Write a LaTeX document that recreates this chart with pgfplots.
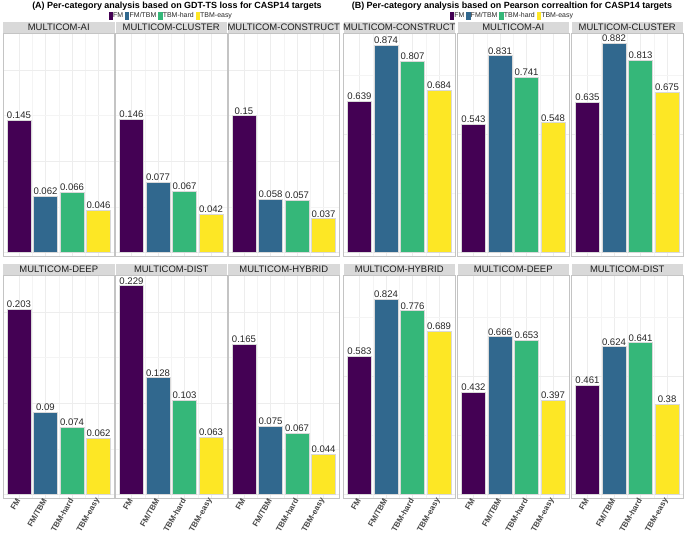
\documentclass[border=0pt]{standalone}
\usepackage{pgfplots}
\pgfplotsset{compat=1.18}
\usepackage{fontspec}
\setmainfont{Liberation Sans}
\definecolor{cFM}{HTML}{440154}
\definecolor{cFT}{HTML}{31688E}
\definecolor{cTH}{HTML}{35B779}
\definecolor{cTE}{HTML}{FDE725}
\definecolor{stripfill}{HTML}{D9D9D9}
\definecolor{panelborder}{HTML}{C4C4C4}
\definecolor{gridmaj}{HTML}{EDEDED}
\definecolor{gridmin}{HTML}{F4F4F4}
\pgfplotsset{
  facet/.style={
    scale only axis, width=111.5bp, height=223bp,
    xmin=0.4, xmax=4.6,
    ybar, bar width=0.9, bar shift=0pt,
    axis line style={panelborder, line width=0.5bp},
    xtick={1,2,3,4}, minor xtick={1.5,2.5,3.5},
    xticklabels={FM,FM/TBM,TBM-hard,TBM-easy},
    major tick length=0pt, minor tick length=0pt,
    yticklabels={},
    grid=both,
    major grid style={gridmaj, line width=0.5bp},
    minor grid style={gridmin, line width=0.3bp},
    x tick label style={rotate=60, anchor=east, font=\bfseries\fontsize{8}{9}\selectfont, text=black!72, inner sep=1bp},
    nodes near coords, point meta=explicit symbolic,
    every node near coord/.append style={font=\fontsize{9.6}{10}\selectfont, text=black!85, inner sep=1.2bp},
    clip=false,
  },
  toprow/.style={xticklabels={}},
  panelA/.style={ymin=-0.004, ymax=0.2405, ytick={0,0.1,0.2}, minor ytick={0.05,0.15}},
  panelB/.style={ymin=-0.015, ymax=0.926, ytick={0,0.5}, minor ytick={0.25,0.75}},
  barstyle/.style={draw=white!85!black, line width=0.4bp, bar shift=0pt},
  mylegend/.style={
    legend entries={FM,FM/TBM,TBM-hard,TBM-easy},
    legend columns=4,
    legend style={at={(axis description cs:#1,1.076)}, anchor=center, draw=none, fill=none,
      font=\fontsize{7}{8}\selectfont, inner sep=0pt,
      nodes={inner sep=0.8bp, text=black!85},
      /tikz/every even column/.append style={column sep=1.2bp}},
  },
}
\newcommand{\legimgs}{%
  \addlegendimage{legend image code/.code={\fill[cFM] (0bp,-3.3bp) rectangle (3.2bp,3.7bp);}}
  \addlegendimage{legend image code/.code={\fill[cFT] (0bp,-3.3bp) rectangle (3.2bp,3.7bp);}}
  \addlegendimage{legend image code/.code={\fill[cTH] (0bp,-3.3bp) rectangle (3.2bp,3.7bp);}}
  \addlegendimage{legend image code/.code={\fill[cTE] (0bp,-3.3bp) rectangle (3.2bp,3.7bp);}}
}
% #1 x, #2 strip top y, #3 panel style, #4 name, #5-#8 values, #9 extra
\newcommand{\facet}[9]{%
  \fill[stripfill] (#1bp,-#2bp) rectangle ++(111.5bp,-11bp);
  \node[font=\fontsize{9.5}{10}\selectfont, text=black!88, inner sep=0pt] at (#1bp+55.75bp,-#2bp-5.7bp) {#4};
  \begin{axis}[facet, #3, at={(#1bp,-#2bp-11bp)}, anchor=north west, #9]
    \addplot[barstyle, fill=cFM] coordinates {(1,#5) [#5]};
    \addplot[barstyle, fill=cFT] coordinates {(2,#6) [#6]};
    \addplot[barstyle, fill=cTH] coordinates {(3,#7) [#7]};
    \addplot[barstyle, fill=cTE] coordinates {(4,#8) [#8]};
  \end{axis}
}
\begin{document}
\begin{tikzpicture}
\path[use as bounding box] (0,0) rectangle (685bp,-543bp);
\node[font=\bfseries\fontsize{9}{11}\selectfont, inner sep=0pt] at (177bp,-6.5bp) {(A) Per-category analysis based on GDT-TS loss for CASP14 targets};
\node[font=\bfseries\fontsize{9}{11}\selectfont, inner sep=0pt] at (512bp,-6.5bp) {(B) Per-category analysis based on Pearson correaltion for CASP14 targets};
% Panel A
\facet{3}{22}{panelA}{MULTICOM-AI}{0.145}{0.062}{0.066}{0.046}{toprow, mylegend=1.505, execute at begin axis={\legimgs}}
\facet{115.5}{22}{panelA}{MULTICOM-CLUSTER}{0.146}{0.077}{0.067}{0.042}{toprow}
\facet{228}{22}{panelA}{MULTICOM-CONSTRUCT}{0.15}{0.058}{0.057}{0.037}{toprow}
\facet{3}{264}{panelA}{MULTICOM-DEEP}{0.203}{0.09}{0.074}{0.062}{}
\facet{115.5}{264}{panelA}{MULTICOM-DIST}{0.229}{0.128}{0.103}{0.063}{}
\facet{228}{264}{panelA}{MULTICOM-HYBRID}{0.165}{0.075}{0.067}{0.044}{}
% Panel B
\facet{343.5}{22}{panelB}{MULTICOM-CONSTRUCT}{0.639}{0.874}{0.807}{0.684}{toprow, mylegend=1.51, execute at begin axis={\legimgs}}
\facet{457.5}{22}{panelB}{MULTICOM-AI}{0.543}{0.831}{0.741}{0.548}{toprow}
\facet{571.5}{22}{panelB}{MULTICOM-CLUSTER}{0.635}{0.882}{0.813}{0.675}{toprow}
\facet{343.5}{264}{panelB}{MULTICOM-HYBRID}{0.583}{0.824}{0.776}{0.689}{}
\facet{457.5}{264}{panelB}{MULTICOM-DEEP}{0.432}{0.666}{0.653}{0.397}{}
\facet{571.5}{264}{panelB}{MULTICOM-DIST}{0.461}{0.624}{0.641}{0.38}{}
\end{tikzpicture}
\end{document}
